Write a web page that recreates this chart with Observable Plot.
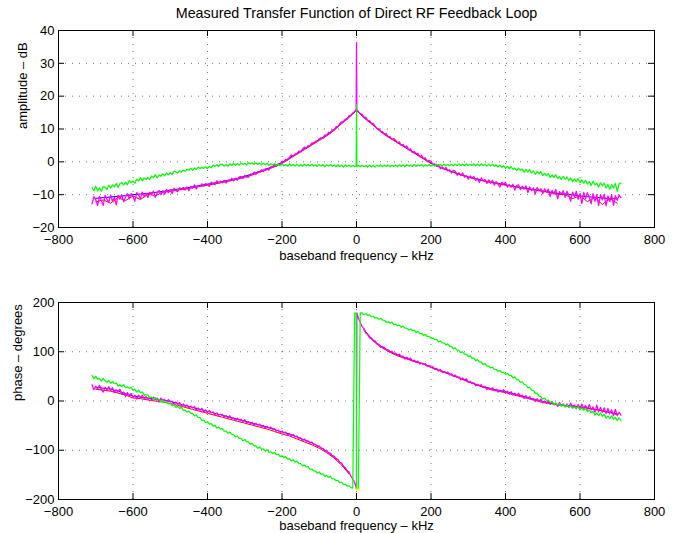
<!DOCTYPE html>
<html><head><meta charset="utf-8">
<script src="https://cdn.jsdelivr.net/npm/d3@7"></script>
<script src="https://cdn.jsdelivr.net/npm/@observablehq/plot@0.6"></script>
<style>
html,body{margin:0;padding:0;background:#fff;}
#chart{width:674px;height:533px;overflow:hidden;}
#chart svg{display:block;}
</style>
</head><body><div id="chart"></div>
<script>
const title = "Measured Transfer Function of Direct RF Feedback Loop";
const xLabel = "baseband frequency – kHz";
const ampLabel = "amplitude – dB";
const phaseLabel = "phase – degrees";
const xTicks = [-800,-600,-400,-200,0,200,400,600,800];
const ampTicks = [-20,-10,0,10,20,30,40];
const phaseTicks = [-200,-100,0,100,200];

// main frequency grid (kHz)
const freq = [
-710,-705,-700,-695,-690,-685,-680,-675,-670,-665,
-660,-655,-650,-645,-640,-635,-630,-625,-620,-615,
-610,-605,-600,-595,-590,-585,-580,-575,-570,-565,
-560,-555,-550,-545,-540,-535,-530,-525,-520,-515,
-510,-505,-500,-495,-490,-485,-480,-475,-470,-465,
-460,-455,-450,-445,-440,-435,-430,-425,-420,-415,
-410,-405,-400,-395,-390,-385,-380,-375,-370,-365,
-360,-355,-350,-345,-340,-335,-330,-325,-320,-315,
-310,-305,-300,-295,-290,-285,-280,-275,-270,-265,
-260,-255,-250,-245,-240,-235,-230,-225,-220,-215,
-210,-205,-200,-195,-190,-185,-180,-175,-170,-165,
-160,-155,-150,-145,-140,-135,-130,-125,-120,-115,
-110,-105,-100,-95,-90,-85,-80,-75,-70,-65,
-60,-55,-50,-45,-40,-35,-30,-25,-20,-15,
-10,-5,
-1,0,1,
5,10,
15,20,25,30,35,40,45,50,55,60,
65,70,75,80,85,90,95,100,105,110,
115,120,125,130,135,140,145,150,155,160,
165,170,175,180,185,190,195,200,205,210,
215,220,225,230,235,240,245,250,255,260,
265,270,275,280,285,290,295,300,305,310,
315,320,325,330,335,340,345,350,355,360,
365,370,375,380,385,390,395,400,405,410,
415,420,425,430,435,440,445,450,455,460,
465,470,475,480,485,490,495,500,505,510,
515,520,525,530,535,540,545,550,555,560,
565,570,575,580,585,590,595,600,605,610,
615,620,625,630,635,640,645,650,655,660,
665,670,675,680,685,690,695,700,705,710];

const ampMagenta = [
-12.8,-10.6,-11.5,-13.3,-10.5,-11.8,-13.3,-10.2,-11.4,-12.4,
-10.1,-12.0,-10.8,-13.1,-10.1,-11.4,-10.1,-12.2,-10.7,-9.7,
-11.3,-9.7,-10.6,-12.0,-9.4,-10.2,-11.2,-9.2,-10.6,-9.5,
-10.9,-9.2,-9.9,-8.9,-10.9,-9.4,-8.7,-10.0,-8.8,-9.9,
-8.4,-9.4,-8.5,-9.7,-8.0,-8.7,-9.1,-7.9,-8.4,-7.8,
-8.6,-7.6,-8.8,-7.5,-8.0,-7.0,-8.3,-7.2,-7.5,-6.7,
-7.5,-6.6,-7.0,-7.5,-6.2,-6.6,-7.0,-5.8,-6.5,-5.9,
-6.4,-5.6,-6.5,-5.6,-5.8,-5.0,-5.8,-5.0,-5.6,-4.6,
-4.5,-5.1,-4.1,-4.6,-4.7,-3.7,-3.9,-3.1,-3.8,-3.0,
-3.2,-2.4,-3.0,-2.1,-2.3,-2.5,-1.4,-1.6,-0.8,-1.4,
-0.5,-0.8,0.2,-0.1,0.8,0.5,1.4,2.1,1.6,2.4,
2.4,3.3,2.9,3.9,4.5,4.1,4.9,4.9,5.8,5.7,
6.3,6.2,7.1,7.3,7.1,8.2,8.0,9.0,8.7,9.7,
9.7,10.7,10.6,11.6,12.2,12.2,13.0,13.0,14.1,14.1,
14.9,15.3,
16.1,36.4,16.0,
15.2,14.6,
14.5,13.6,13.6,12.5,12.6,11.6,11.7,10.8,10.1,10.1,
9.2,9.2,8.4,8.6,7.6,7.7,6.8,7.1,6.6,5.8,
6.1,5.0,5.3,4.5,4.8,3.7,4.0,2.8,3.2,2.5,
2.6,1.5,2.0,1.0,1.2,0.0,0.4,0.2,-0.8,-0.6,
-1.4,-0.9,-2.1,-1.5,-2.2,-1.7,-2.8,-2.4,-3.4,-2.6,
-2.8,-4.1,-3.3,-4.1,-3.4,-4.7,-4.2,-5.3,-4.3,-4.9,
-4.5,-5.7,-5.0,-6.3,-4.9,-5.8,-5.4,-6.6,-5.5,-6.5,
-5.6,-7.1,-6.0,-6.8,-7.7,-6.2,-6.9,-6.2,-7.7,-6.9,
-7.8,-6.8,-8.6,-7.2,-7.0,-8.5,-7.4,-8.3,-7.3,-9.4,
-7.6,-8.8,-8.0,-9.8,-7.8,-8.8,-8.2,-9.7,-8.2,-9.2,
-8.3,-10.6,-8.7,-9.8,-8.4,-11.3,-9.1,-9.9,-8.8,-10.8,
-9.0,-10.2,-12.0,-9.2,-10.7,-9.0,-11.4,-9.6,-12.7,-9.3,
-11.2,-9.4,-10.8,-12.8,-9.7,-12.0,-10.0,-13.3,-10.0,-11.6,
-9.9,-13.4,-10.4,-12.1,-10.0,-13.3,-10.3,-11.7,-10.1,-10.9];

const ampGreen = [
-7.8,-8.8,-7.4,-8.9,-7.9,-9.0,-7.5,-7.7,-8.5,-7.1,
-8.0,-7.0,-7.6,-6.6,-7.8,-6.7,-6.3,-7.1,-6.2,-7.0,
-5.7,-6.4,-5.8,-6.5,-5.3,-5.8,-4.8,-5.8,-4.9,-5.4,
-4.7,-5.4,-4.3,-4.8,-3.9,-4.9,-4.0,-4.4,-3.6,-4.3,
-3.4,-4.0,-3.3,-3.9,-2.8,-3.1,-3.4,-2.6,-3.1,-2.5,
-2.9,-2.2,-2.6,-1.9,-2.6,-1.9,-2.3,-1.6,-2.0,-1.7,
-2.0,-1.5,-2.1,-1.4,-1.8,-1.0,-1.4,-0.9,-1.4,-0.7,
-0.8,-1.3,-0.8,-1.4,-0.6,-1.1,-0.5,-1.1,-0.5,-1.0,
-0.4,-0.8,-0.4,-1.0,-0.3,-0.6,-0.3,-0.8,-0.3,-0.8,
-0.4,-0.9,-0.4,-0.9,-0.4,-1.1,-0.6,-1.0,-0.5,-1.1,
-0.7,-1.2,-0.6,-1.2,-0.8,-1.3,-0.6,-1.2,-0.8,-1.3,
-0.7,-1.3,-0.8,-1.4,-0.7,-1.2,-0.8,-1.3,-0.7,-1.3,
-0.9,-1.4,-0.8,-1.3,-0.8,-1.5,-0.9,-1.3,-0.8,-1.4,
-1.0,-1.5,-0.9,-1.4,-1.0,-1.6,-0.9,-1.4,-1.0,-1.5,
-1.1,-1.4,
-1.3,17.5,-1.4,
-1.1,-1.5,
-1.0,-1.5,-1.1,-1.6,-1.0,-1.5,-1.1,-1.6,-1.0,-1.4,
-0.9,-1.5,-1.0,-1.4,-0.9,-1.5,-1.0,-1.4,-1.0,-1.5,
-0.9,-1.4,-0.9,-1.5,-0.9,-1.3,-1.0,-1.4,-0.8,-1.4,
-0.9,-1.3,-0.8,-1.4,-0.9,-1.3,-0.8,-1.3,-0.8,-1.3,
-0.7,-1.2,-0.8,-1.3,-0.7,-1.2,-0.8,-1.2,-0.7,-1.2,
-0.7,-1.2,-0.6,-1.1,-0.7,-1.2,-0.6,-1.1,-0.7,-1.1,
-0.6,-1.2,-0.7,-1.2,-0.6,-1.1,-0.8,-1.3,-0.7,-1.2,
-0.7,-1.4,-0.9,-1.6,-1.0,-1.7,-1.2,-2.0,-1.4,-2.1,
-1.5,-2.3,-1.9,-2.7,-1.9,-2.6,-2.2,-3.2,-2.3,-3.1,
-2.4,-3.4,-2.8,-3.8,-2.9,-3.7,-3.0,-4.2,-3.5,-4.3,
-3.6,-4.8,-4.0,-4.8,-3.9,-5.1,-4.5,-5.4,-4.4,-5.3,
-4.6,-5.7,-4.9,-6.1,-5.2,-6.0,-5.1,-6.4,-5.5,-6.5,
-5.6,-6.8,-6.0,-7.2,-5.9,-7.0,-6.5,-7.7,-6.4,-7.3,
-6.5,-8.0,-6.9,-8.4,-6.9,-8.0,-6.6,-9.0,-6.6,-6.5];

const phaseMagenta = [
33,23,30,24,32,24,18,28,23,29,
21,27,17,23,18,24,14,18,9,17,
10,15,7,12,4,12,7,12,4,9,
3,8,1,8,3,6,-2,6,0,3,
-2,3,-2,0,-7,-2,-7,-3,-10,-6,
-11,-8,-14,-10,-14,-11,-19,-14,-19,-15,
-22,-18,-23,-19,-24,-22,-28,-24,-29,-27,
-27,-33,-30,-34,-30,-36,-34,-40,-35,-39,
-37,-42,-38,-45,-42,-46,-43,-49,-45,-49,
-47,-52,-50,-55,-51,-55,-53,-58,-56,-61,
-59,-64,-61,-65,-63,-69,-66,-71,-68,-73,
-71,-76,-75,-80,-77,-82,-81,-86,-83,-88,
-88,-93,-91,-96,-96,-102,-100,-106,-106,-112,
-112,-118,-118,-125,-126,-134,-135,-142,-144,-153,
-158,-166,
-175,-180,179,
168,160,
151,147,138,135,128,128,122,122,116,115,
109,110,109,104,104,99,101,96,97,92,
95,90,91,85,89,85,87,81,83,78,
81,75,77,74,76,70,72,68,70,64,
66,61,64,58,60,57,59,53,55,50,
53,48,49,43,47,42,45,38,40,36,
37,31,34,31,33,27,30,23,27,24,
27,21,24,18,22,19,23,17,20,14,
19,12,16,11,16,10,12,5,11,5,
9,3,5,-1,5,-1,4,-4,0,-5,
0,-7,-1,-8,-5,-11,-3,-10,-6,-12,
-6,-13,-4,-13,-8,-16,-7,-15,-6,-15,
-9,-18,-7,-18,-12,-23,-8,-22,-13,-23,
-14,-26,-15,-26,-18,-30,-17,-30,-23,-29];

const phaseGreen = [
52,45,50,44,46,40,46,41,38,42,
36,40,35,37,30,33,29,33,27,29,
26,28,22,24,18,22,17,18,12,13,
12,7,8,4,7,3,4,-2,1,-3,
-1,-6,-5,-10,-7,-13,-11,-15,-13,-19,
-18,-23,-20,-25,-25,-30,-28,-34,-33,-40,
-39,-44,-42,-47,-46,-51,-49,-55,-53,-57,
-56,-61,-61,-66,-63,-68,-68,-73,-71,-76,
-76,-81,-78,-83,-83,-88,-86,-91,-91,-96,
-93,-98,-97,-102,-99,-104,-103,-107,-104,-109,
-108,-113,-111,-115,-113,-118,-117,-122,-119,-124,
-122,-127,-127,-132,-130,-134,-133,-139,-138,-142,
-142,-147,-144,-149,-148,-153,-151,-155,-153,-158,
-158,-162,-161,-166,-165,-170,-169,-173,-172,-176,
-177,179,
178,-179,-179,
-178,179,
179,175,177,174,175,171,172,168,169,166,
168,164,164,160,161,158,160,155,156,153,
154,150,152,148,148,144,146,143,144,139,
141,137,137,133,135,131,131,127,128,125,
125,120,122,118,118,114,116,111,111,106,
108,103,103,98,100,95,95,90,92,87,
87,82,84,79,79,74,76,71,71,67,
69,64,64,60,62,58,58,54,56,52,
52,47,49,44,43,38,39,34,33,27,
28,22,21,15,16,10,9,4,6,1,
2,-3,-1,-7,-4,-8,-6,-11,-7,-12,
-8,-13,-10,-15,-12,-15,-11,-18,-14,-19,
-15,-22,-18,-24,-21,-29,-24,-30,-24,-31,
-27,-35,-30,-36,-30,-37,-33,-40,-34,-40];

// coarser grid for the red and blue traces
const freq20 = [
-700,-680,-660,-640,-620,-600,-580,-560,-540,-520,
-500,-480,-460,-440,-420,-400,-380,-360,-340,-320,
-300,-280,-260,-240,-220,-200,-180,-160,-140,-120,
-100,-80,-60,-40,-20,
0,
20,40,60,80,100,120,140,160,180,200,
220,240,260,280,300,320,340,360,380,400,
420,440,460,480,500,520,540,560,580,600,
620,640,660,680,700];

const ampRed = [
-12.2,-11.6,-12.6,-10.9,-11.8,-10.4,-11.5,-9.9,-10.3,-9.3,
-9.0,-8.6,-8.3,-7.9,-7.5,-7.1,-6.7,-6.3,-5.8,-5.3,
-4.7,-4.0,-3.2,-2.4,-1.5,-0.5,0.9,2.3,3.7,5.1,
6.5,7.9,9.6,11.6,13.5,
15.6,
13.4,11.6,9.6,7.9,6.5,5.1,3.7,2.3,0.9,-0.5,
-1.5,-2.4,-3.2,-4.0,-4.7,-5.3,-5.8,-6.3,-6.7,-7.1,
-7.5,-7.9,-8.3,-8.6,-9.0,-9.4,-9.9,-10.0,-11.2,-10.3,
-12.1,-10.8,-13.0,-11.2,-12.6];

const ampBlue = [
-11.1,-10.9,-10.7,-10.5,-10.3,-10.0,-9.8,-9.6,-9.3,-9.0,
-8.6,-8.3,-8.0,-7.6,-7.2,-6.8,-6.4,-6.0,-5.5,-5.0,
-4.4,-3.7,-2.9,-2.1,-1.2,-0.2,1.2,2.6,4.0,5.4,
6.8,8.2,9.9,11.9,13.8,
15.8,
13.6,11.8,9.8,8.1,6.6,5.2,3.8,2.4,1.0,-0.4,
-1.4,-2.3,-3.1,-3.9,-4.6,-5.2,-5.7,-6.2,-6.6,-7.0,
-7.4,-7.8,-8.2,-8.5,-8.9,-9.2,-9.6,-9.8,-10.1,-10.4,
-10.6,-10.8,-11.0,-11.2,-11.3];

const phaseRed = [
24,22,20,16,12,6,5,2,0,-2,
-5,-9,-13,-17,-21,-25,-29,-33,-37,-41,
-45,-49,-53,-57,-62,-67,-71,-77,-83,-89,
-96,-105,-116,-130,-148,
NaN,
144,125,112,103,95,89,84,79,75,68,
62,57,51,45,39,33,28,23,20,17,
13,9,5,1,-3,-5,-8,-10,-11,-13,
-15,-17,-20,-23,-28];

const phaseBlue = [
28,26,24,20,15,10,8,6,4,2,
-1,-5,-9,-13,-17,-21,-25,-29,-33,-37,
-41,-45,-49,-53,-58,-63,-67,-73,-79,-85,
-93,-102,-113,-127,-146,
NaN,
145,127,114,105,97,91,85,80,75,69,
63,58,52,46,40,34,29,25,22,19,
15,11,7,3,-1,-4,-7,-9,-10,-12,
-14,-17,-20,-23,-26];

const yellowFreq = [-2, 8];
const yellowPhase = [-179, -179];

const FONT = "'Liberation Sans', Arial, Helvetica, sans-serif";
const W = 674, ML = 58, MR = 20, TICK = 6;

function table(xs, ys) { return xs.map((x, i) => ({x, y: ys[i]})); }

function panel({height, marginTop, marginBottom, yDomain, yTicks, yLabel, yLabelDx, xLabelDy, xTickPad, series, extra = []}) {
  const plotH = height - marginTop - marginBottom;
  const plotW = W - ML - MR;
  const grid = {stroke: "#000", strokeOpacity: 0.55, strokeDasharray: "1,6"};
  return Plot.plot({
    width: W, height, marginLeft: ML, marginRight: MR, marginTop, marginBottom,
    style: {fontFamily: FONT, fontSize: "13px", background: "#fff", color: "#000"},
    x: {domain: [-800, 800]},
    y: {domain: yDomain},
    marks: [
      Plot.gridX(xTicks, grid),
      Plot.gridY(yTicks, grid),
      ...series.map(s => Plot.line(table(s.x, s.y), {x: "x", y: "y", stroke: s.color, strokeWidth: s.w || 1})),
      Plot.frame({stroke: "#000", strokeWidth: 1}),
      Plot.tickX(xTicks, {x: d => d, insetTop: plotH - TICK, stroke: "#000"}),
      Plot.tickX(xTicks, {x: d => d, insetBottom: plotH - TICK, stroke: "#000"}),
      Plot.tickY(yTicks, {y: d => d, insetRight: plotW - TICK, stroke: "#000"}),
      Plot.tickY(yTicks, {y: d => d, insetLeft: plotW - TICK, stroke: "#000"}),
      Plot.axisX(xTicks, {tickSize: 0, tickPadding: xTickPad, label: null, fontSize: 13}),
      Plot.axisY(yTicks, {tickSize: 0, tickPadding: 4, label: null, fontSize: 13}),
      Plot.text([xLabel], {frameAnchor: "bottom", lineAnchor: "middle", dy: xLabelDy, fontSize: 13}),
      Plot.text([yLabel], {frameAnchor: "left", lineAnchor: "middle", dx: yLabelDx, rotate: -90, fontSize: 13}),
      ...extra
    ]
  });
}

const topPanel = panel({
  height: 270, marginTop: 30, marginBottom: 43,
  yDomain: [-20, 40], yTicks: ampTicks, yLabel: ampLabel, yLabelDx: -36, xLabelDy: 28, xTickPad: 7,
  series: [
    {x: freq20, y: ampBlue, color: "#0000ff"},
    {x: freq20, y: ampRed, color: "#ff0000"},
    {x: freq, y: ampMagenta, color: "#ff00ff", w: 1.25},
    {x: freq, y: ampGreen, color: "#00ff00", w: 1.2}
  ],
  extra: [Plot.text([title], {frameAnchor: "top", lineAnchor: "middle", dy: -17, fontSize: 14.3})]
});

const bottomPanel = panel({
  height: 263, marginTop: 32, marginBottom: 34,
  yDomain: [-200, 200], yTicks: phaseTicks, yLabel: phaseLabel, yLabelDx: -41, xLabelDy: 26.7, xTickPad: 7,
  series: [
    {x: freq20, y: phaseBlue, color: "#0000ff"},
    {x: freq20, y: phaseRed, color: "#ff0000"},
    {x: freq, y: phaseMagenta, color: "#ff00ff", w: 1.25},
    {x: freq, y: phaseGreen, color: "#00ff00", w: 1.2},
    {x: yellowFreq, y: yellowPhase, color: "#ffff00", w: 1.5}
  ]
});

const root = document.getElementById("chart");
root.appendChild(topPanel);
root.appendChild(bottomPanel);
</script>
</body></html>
